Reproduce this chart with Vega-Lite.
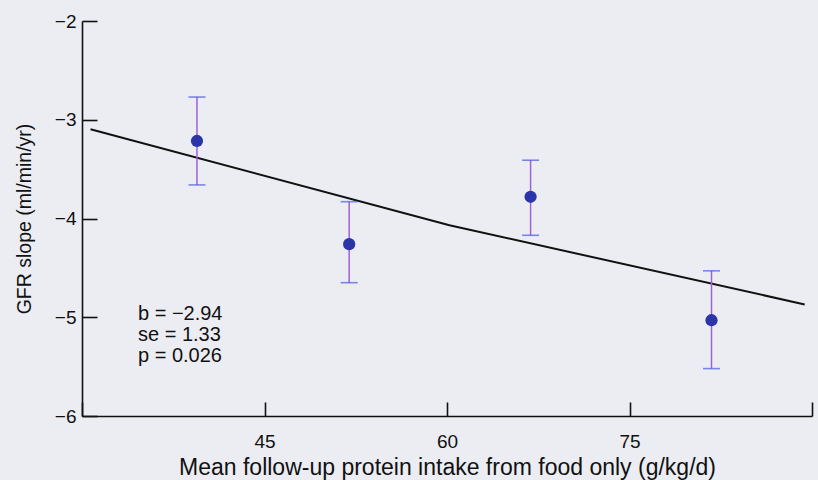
{
  "$schema": "https://vega.github.io/schema/vega-lite/v6.json",
  "width": 730,
  "height": 395,
  "autosize": {"type": "none"},
  "padding": {"left": 82, "top": 21, "right": 6, "bottom": 64},
  "background": "#ecedf3",
  "config": {
    "view": {"stroke": null},
    "font": "Liberation Sans",
    "style": {"guide-label": {"fontSize": 19, "fill": "#111111"}},
    "axis": {"grid": false, "domainColor": "#111111", "tickColor": "#111111", "labelColor": "#111111", "titleColor": "#111111", "domainWidth": 1.6, "tickWidth": 1.6, "titleFontWeight": "normal", "labelFontSize": 19}
  },
  "datasets": {
    "pts": [
      {"x": 39.45, "y": -3.215, "lo": -3.66, "hi": -2.77},
      {"x": 51.96, "y": -4.26, "lo": -4.65, "hi": -3.83},
      {"x": 66.87, "y": -3.78, "lo": -4.17, "hi": -3.41},
      {"x": 81.74, "y": -5.03, "lo": -5.52, "hi": -4.53}
    ],
    "fit": [
      {"x": 30.7, "y": -3.096},
      {"x": 60.2, "y": -4.068},
      {"x": 89.4, "y": -4.87}
    ],
    "notes": [
      {"x": 34.6, "y": -4.97, "t": "b = −2.94"},
      {"x": 34.6, "y": -5.18, "t": "se = 1.33"},
      {"x": 34.6, "y": -5.39, "t": "p = 0.026"}
    ]
  },
  "encoding": {
    "x": {"field": "x", "type": "quantitative", "scale": {"domain": [30, 90], "nice": false, "zero": false},
      "axis": {"values": [30, 45, 60, 75, 90], "labelFontSize": 19, "labelExpr": "datum.value == 30 || datum.value == 90 ? '' : format(datum.value, 'd')", "tickSize": -14, "labelPadding": 30, "title": "Mean follow-up protein intake from food only (g/kg/d)", "titleFontSize": 23, "titlePadding": 5}}
  },
  "layer": [
    {
      "data": {"name": "fit"},
      "mark": {"type": "line", "color": "#111111", "strokeWidth": 2},
      "encoding": {
        "y": {"field": "y", "type": "quantitative", "scale": {"domain": [-6, -2], "nice": false, "zero": false},
          "axis": {"values": [-6, -5, -4, -3, -2], "labelFontSize": 19, "labelExpr": "replace(format(datum.value, 'd'), '-', '−')", "tickSize": -15, "labelPadding": 21, "title": "GFR slope (ml/min/yr)", "titleFontSize": 19.5, "titlePadding": 20}}
      }
    },
    {
      "data": {"name": "pts"},
      "mark": {"type": "rule", "color": "#a060d8", "strokeWidth": 1.5},
      "encoding": {
        "y": {"field": "lo", "type": "quantitative"},
        "y2": {"field": "hi"}
      }
    },
    {
      "data": {"name": "pts"},
      "mark": {"type": "tick", "orient": "horizontal", "color": "#4a5ae0", "size": 17, "thickness": 1.6},
      "encoding": {
        "y": {"field": "lo", "type": "quantitative"}
      }
    },
    {
      "data": {"name": "pts"},
      "mark": {"type": "tick", "orient": "horizontal", "color": "#4a5ae0", "size": 17, "thickness": 1.6},
      "encoding": {
        "y": {"field": "hi", "type": "quantitative"}
      }
    },
    {
      "data": {"name": "pts"},
      "mark": {"type": "circle", "color": "#2b35a8", "opacity": 1, "size": 150},
      "encoding": {
        "y": {"field": "y", "type": "quantitative"}
      }
    },
    {
      "data": {"name": "notes"},
      "mark": {"type": "text", "align": "left", "baseline": "middle", "fontSize": 20, "color": "#111111"},
      "encoding": {
        "y": {"field": "y", "type": "quantitative"},
        "text": {"field": "t"}
      }
    }
  ]
}
